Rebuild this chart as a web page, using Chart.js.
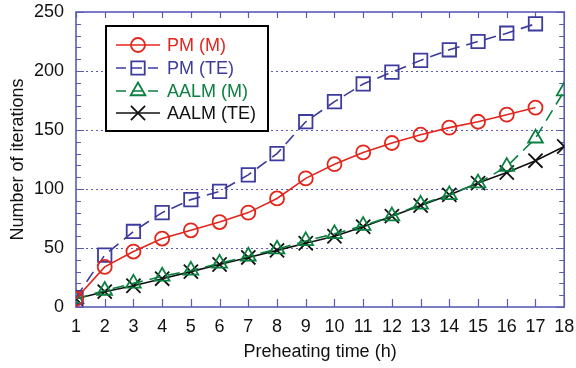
<!DOCTYPE html>
<html>
<head>
<meta charset="utf-8">
<script src="https://cdn.jsdelivr.net/npm/chart.js@4/dist/chart.umd.min.js"></script>
<style>
  html, body { margin: 0; padding: 0; background: #fff; }
  #wrap { width: 576px; height: 368px; }
</style>
</head>
<body>
<div id="wrap"><canvas id="c" width="576" height="368"></canvas></div>
<script>
// ---- Data ----
const hours = [1, 2, 3, 4, 5, 6, 7, 8, 9, 10, 11, 12, 13, 14, 15, 16, 17, 18];
const pmM    = [7, 34, 47, 58, 65, 72, 80, 92, 109, 121, 131, 139, 146, 152, 157, 163, 169];
const pmTE   = [8, 44, 64, 80, 91, 98, 112, 130, 157, 174, 189, 199, 209, 218, 225, 232, 240];
const aalmM  = [7, 14, 20, 26, 31, 37, 43, 49, 56, 62, 69, 77, 87, 95, 105, 119, 143, 183];
const aalmTE = [7, 13, 18, 24, 30, 36, 42, 48, 54, 60, 68, 77, 86, 95, 105, 114, 124, 136];
const seriesNames = ['PM (M)', 'PM (TE)', 'AALM (M)', 'AALM (TE)'];
const yTicks = [0, 50, 100, 150, 200, 250];
const xLabel = 'Preheating time (h)';
const yLabel = 'Number of iterations';

const FONT = '"Liberation Sans", Arial, sans-serif';
const AXIS = '#5a5ab8';
const RED = '#e3261c', BLUE = '#3d3b9e', GREEN = '#0b8040', BLACK = '#111111';

function pts(vals) { return vals.map((v, i) => ({ x: hours[i], y: v })); }

const datasets = [
  { label: seriesNames[0], data: pts(pmM), borderColor: RED, pointStyle: 'circle', pointRadius: 7, borderDash: [] },
  { label: seriesNames[1], data: pts(pmTE), borderColor: BLUE, pointStyle: 'rect', pointRadius: 9.5, borderDash: [12, 7] },
  { label: seriesNames[2], data: pts(aalmM), borderColor: GREEN, pointStyle: 'triangle', pointRadius: 8.5, borderDash: [12, 7] },
  { label: seriesNames[3], data: pts(aalmTE), borderColor: BLACK, pointStyle: 'crossRot', pointRadius: 10, borderDash: [] }
].map(d => Object.assign(d, {
  backgroundColor: 'transparent',
  pointBackgroundColor: 'transparent',
  pointBorderColor: d.borderColor,
  pointBorderWidth: 1.8,
  borderWidth: 1.6,
  tension: 0,
  pointHoverRadius: d.pointRadius
}));

const framePlugin = {
  id: 'frame',
  beforeDatasetsDraw(chart) {
    const { ctx, chartArea: a, scales: { x, y } } = chart;
    ctx.save();
    // dotted gridlines
    ctx.strokeStyle = AXIS; ctx.lineWidth = 1.2; ctx.setLineDash([2, 3]);
    [50, 100, 150, 200].forEach(v => {
      const py = Math.round(y.getPixelForValue(v)) + 0.5;
      ctx.beginPath(); ctx.moveTo(a.left, py); ctx.lineTo(a.right, py); ctx.stroke();
    });
    ctx.setLineDash([]);
    // ticks
    ctx.lineWidth = 1.2;
    for (let v = 0; v <= 250; v += 10) {
      const py = Math.round(y.getPixelForValue(v)) + 0.5;
      const len = (v % 50 === 0) ? 8 : 5;
      ctx.beginPath();
      ctx.moveTo(a.left, py); ctx.lineTo(a.left + len, py);
      ctx.moveTo(a.right, py); ctx.lineTo(a.right - len, py);
      ctx.stroke();
    }
    hours.forEach(h => {
      const px = Math.round(x.getPixelForValue(h)) + 0.5;
      ctx.beginPath();
      ctx.moveTo(px, a.bottom); ctx.lineTo(px, a.bottom - 8);
      ctx.moveTo(px, a.top); ctx.lineTo(px, a.top + 6);
      ctx.stroke();
    });
    // frame
    ctx.lineWidth = 1.6;
    ctx.strokeRect(a.left, a.top, a.right - a.left, a.bottom - a.top);
    ctx.restore();
  },
  afterDraw(chart) {
    const { ctx, chartArea: a } = chart;
    ctx.save();
    // axis titles
    ctx.fillStyle = '#111';
    ctx.font = '18px ' + FONT;
    ctx.textAlign = 'center'; ctx.textBaseline = 'middle';
    ctx.fillText(xLabel, (a.left + a.right) / 2, 352);
    ctx.translate(18, (a.top + a.bottom) / 2);
    ctx.rotate(-Math.PI / 2);
    ctx.fillText(yLabel, 0, 0);
    ctx.restore();

    // legend
    ctx.save();
    ctx.fillStyle = '#fff';
    ctx.fillRect(106, 26, 162, 105);
    ctx.strokeStyle = '#000'; ctx.lineWidth = 2;
    ctx.strokeRect(106, 26, 162, 105);
    const rows = [45, 68, 91, 113];
    chart.data.datasets.forEach((d, i) => {
      const yy = rows[i];
      ctx.strokeStyle = d.borderColor; ctx.lineWidth = d.borderWidth;
      ctx.setLineDash(d.borderDash.length ? [10, 6] : []);
      ctx.beginPath(); ctx.moveTo(116, yy); ctx.lineTo(160, yy); ctx.stroke();
      ctx.setLineDash([]);
      ctx.lineWidth = d.pointBorderWidth;
      ctx.fillStyle = 'rgba(0,0,0,0)';
      Chart.helpers.drawPoint(ctx, { pointStyle: d.pointStyle, radius: d.pointRadius, borderWidth: d.pointBorderWidth, rotation: 0 }, 138, yy);
      ctx.fillStyle = d.borderColor;
      ctx.font = '18px ' + FONT;
      ctx.textAlign = 'left'; ctx.textBaseline = 'middle';
      ctx.fillText(d.label, 167, yy + 1);
    });
    ctx.restore();
  }
};

new Chart(document.getElementById('c'), {
  type: 'line',
  data: { datasets },
  options: {
    responsive: false,
    animation: false,
    layout: { padding: { top: 12, right: 10, left: 0, bottom: 0 } },
    plugins: { legend: { display: false }, tooltip: { enabled: false } },
    scales: {
      x: {
        type: 'linear', min: 1, max: 18,
        grid: { display: false, drawTicks: false },
        border: { display: false },
        afterBuildTicks(s) { s.ticks = hours.map(v => ({ value: v })); },
        ticks: { color: '#111', font: { size: 18, family: FONT }, padding: 9, maxRotation: 0, autoSkip: false },
        afterFit(s) { s.height = 61; s.paddingLeft = 0; s.paddingRight = 0; }
      },
      y: {
        type: 'linear', min: 0, max: 250,
        grid: { display: false, drawTicks: false },
        border: { display: false },
        afterBuildTicks(s) { s.ticks = yTicks.map(v => ({ value: v })); },
        ticks: { color: '#111', font: { size: 18, family: FONT }, padding: 12 },
        afterFit(s) { s.width = 76; s.paddingTop = 0; s.paddingBottom = 0; }
      }
    }
  },
  plugins: [framePlugin]
});
</script>
</body>
</html>
